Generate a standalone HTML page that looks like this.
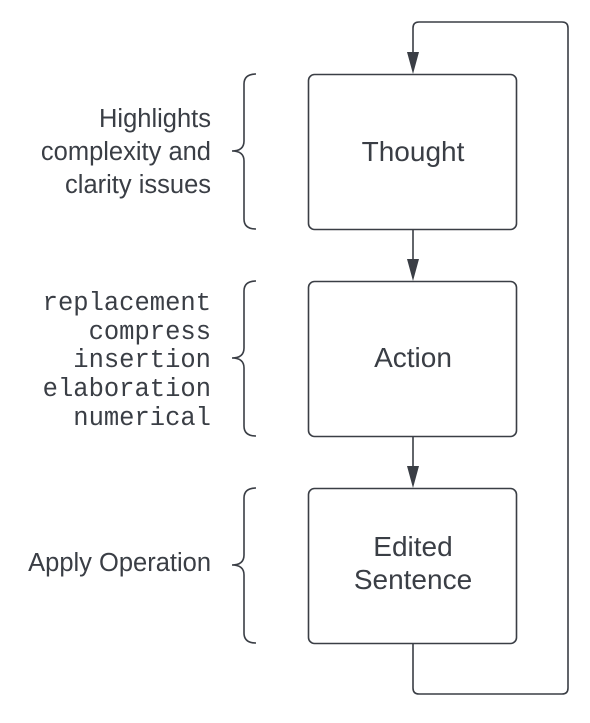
<!DOCTYPE html>
<html><head><style>
body{margin:0;background:#fff;}
</style></head><body>
<svg width="590" height="718" viewBox="0 0 590 718" xmlns="http://www.w3.org/2000/svg">
<g fill="none" stroke="#3a3e45" stroke-width="1.6">
<rect x="308.5" y="74.5" width="208" height="155" rx="6"/>
<rect x="308.5" y="281.5" width="208" height="155" rx="6"/>
<rect x="308.5" y="488.5" width="208" height="155" rx="6"/>
<line x1="413" y1="230" x2="413" y2="262"/>
<line x1="413" y1="437" x2="413" y2="469"/>
<path d="M413 644 V688 Q413 694 419 694 H562 Q568 694 568 688 V28 Q568 22 562 22 H419 Q413 22 413 28 V55"/>
<path d="M256 74 Q244 74 244 84 V141 Q244 151 232 151 Q244 151 244 161 V219 Q244 229 256 229"/>
<path d="M256 281 Q244 281 244 291 V348 Q244 358 232 358 Q244 358 244 368 V426 Q244 436 256 436"/>
<path d="M256 488 Q244 488 244 498 V555 Q244 565 232 565 Q244 565 244 575 V633 Q244 643 256 643"/>
</g>
<g fill="#3a3e45">
<polygon points="407,52 419,52 413,74"/>
<polygon points="407,259 419,259 413,281"/>
<polygon points="407,466 419,466 413,488"/>
</g>
<g font-family="Liberation Sans, sans-serif" fill="#3a3e45" text-anchor="middle" font-size="28">
<text x="413" y="161">Thought</text>
<text x="413" y="367">Action</text>
<text x="413" y="556">Edited</text>
<text x="413" y="589">Sentence</text>
</g>
<g font-family="Liberation Sans, sans-serif" fill="#3a3e45" text-anchor="end" font-size="25.5">
<text x="211" y="127">Highlights</text>
<text x="211" y="160">complexity and</text>
<text x="211" y="193">clarity issues</text>
<text x="211" y="571">Apply Operation</text>
</g>
<g font-family="Liberation Mono, monospace" fill="#3a3e45" text-anchor="end" font-size="25.5">
<text x="211" y="310">replacement</text>
<text x="211" y="339">compress</text>
<text x="211" y="367">insertion</text>
<text x="211" y="396">elaboration</text>
<text x="211" y="425">numerical</text>
</g>
</svg>
</body></html>
